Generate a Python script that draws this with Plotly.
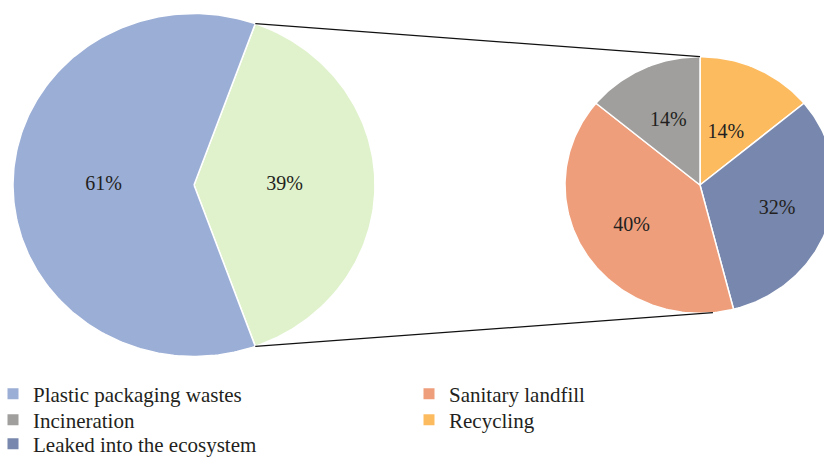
import numpy as np
import plotly.graph_objects as go

# ---- data ----
main_labels = ["Plastic packaging wastes", "Other"]
main_values = [61, 39]
sub_labels = ["Recycling", "Leaked into the ecosystem", "Sanitary landfill", "Incineration"]
sub_values = [14, 32, 40, 14]

# ---- style ----
main_colors = ["#9BAED6", "#E0F2CC"]
sub_colors = ["#FDBB60", "#7787AD", "#EE9E7B", "#A09F9D"]
FONT = "Liberation Serif"
TEXT_COLOR = "#231F20"

W, H = 824, 458
# pie geometry in the pixel-like axis frame (y grows downward)
L_CX, L_CY, L_RX, L_RY = 194, 185, 181, 171.5
R_CX, R_CY, R_RX, R_RY = 700, 185, 135, 128.3
MAIN_LABEL_R = 0.5
SUB_LABEL_R = [0.45, 0.6, 0.6, 0.55]
CONNECT_SUB_ANGLES = [0.0, 174.5]


def ellipse_point(cx, cy, rx, ry, ang_deg, frac=1.0):
    a = np.radians(ang_deg)
    return cx + frac * rx * np.sin(a), cy - frac * ry * np.cos(a)


def wedge(cx, cy, rx, ry, a0, a1):
    n = max(int(abs(a1 - a0)), 2) + 1
    angs = np.linspace(a0, a1, n)
    xs, ys = ellipse_point(cx, cy, rx, ry, angs)
    return [cx, *xs, cx], [cy, *ys, cy]


def slice_angles(values, start):
    total = float(sum(values))
    bounds = [start]
    for v in values:
        bounds.append(bounds[-1] + 360.0 * v / total)
    return list(zip(bounds[:-1], bounds[1:]))


fig = go.Figure()

# main pie: the "Other" share is centred on the right-hand side
other_span = 360.0 * main_values[1] / sum(main_values)
main_order = [1, 0]
main_ang = slice_angles([main_values[i] for i in main_order], 90 - other_span / 2)
main_bounds = {}
for (a0, a1), i in zip(main_ang, main_order):
    main_bounds[i] = (a0, a1)
    xs, ys = wedge(L_CX, L_CY, L_RX, L_RY, a0, a1)
    fig.add_trace(go.Scatter(x=xs, y=ys, mode="lines", fill="toself",
                             fillcolor=main_colors[i],
                             line=dict(color="white", width=1.5),
                             hoverinfo="skip", showlegend=False))
    tx, ty = ellipse_point(L_CX, L_CY, L_RX, L_RY, (a0 + a1) / 2, MAIN_LABEL_R)
    fig.add_trace(go.Scatter(x=[tx], y=[ty], mode="text",
                             text=[f"{main_values[i]}%"],
                             textfont=dict(family=FONT, size=20, color=TEXT_COLOR),
                             hoverinfo="skip", showlegend=False))

# breakdown pie
sub_ang = slice_angles(sub_values, 0)
for k, (a0, a1) in enumerate(sub_ang):
    xs, ys = wedge(R_CX, R_CY, R_RX, R_RY, a0, a1)
    fig.add_trace(go.Scatter(x=xs, y=ys, mode="lines", fill="toself",
                             fillcolor=sub_colors[k],
                             line=dict(color="white", width=1.5),
                             hoverinfo="skip", showlegend=False))
for k, (a0, a1) in enumerate(sub_ang):
    tx, ty = ellipse_point(R_CX, R_CY, R_RX, R_RY, (a0 + a1) / 2, SUB_LABEL_R[k])
    fig.add_trace(go.Scatter(x=[tx], y=[ty], mode="text",
                             text=[f"{sub_values[k]}%"],
                             textfont=dict(family=FONT, size=20, color=TEXT_COLOR),
                             hoverinfo="skip", showlegend=False))

# connector lines from the "Other" wedge edges to the breakdown pie
o0, o1 = main_bounds[1]
for a_main, a_sub in zip([o0, o1], CONNECT_SUB_ANGLES):
    x0, y0 = ellipse_point(L_CX, L_CY, L_RX, L_RY, a_main)
    x1, y1 = ellipse_point(R_CX, R_CY, R_RX, R_RY, a_sub)
    fig.add_trace(go.Scatter(x=[x0, x1], y=[y0, y1], mode="lines",
                             line=dict(color="#111111", width=1.2),
                             hoverinfo="skip", showlegend=False))

# legend: one single-entry legend per slot, laid out in two columns
legend_entries = [("Plastic packaging wastes", main_colors[0]),
                  ("Sanitary landfill", sub_colors[2]),
                  ("Incineration", sub_colors[3]),
                  ("Recycling", sub_colors[0]),
                  ("Leaked into the ecosystem", sub_colors[1])]
col_x = [-7, 409]
row_y = [394, 420, 444]

legend_layout = {}
for k, (name, col) in enumerate(legend_entries):
    lid = "legend" if k == 0 else f"legend{k + 1}"
    fig.add_trace(go.Scatter(x=[None], y=[None], mode="markers", name=name,
                             marker=dict(symbol="square", size=11, color=col),
                             legend=lid))
    legend_layout[lid] = dict(
        xref="paper", yref="paper",
        x=col_x[k % 2] / W, y=1 - row_y[k // 2] / H,
        xanchor="left", yanchor="middle",
        font=dict(family=FONT, size=21, color=TEXT_COLOR),
        bgcolor="rgba(0,0,0,0)", itemclick=False, itemdoubleclick=False)

fig.update_layout(
    width=W, height=H,
    margin=dict(l=0, r=0, t=0, b=0, autoexpand=False),
    paper_bgcolor="white", plot_bgcolor="white",
    xaxis=dict(range=[0, W], visible=False, fixedrange=True),
    yaxis=dict(range=[H, 0], visible=False, fixedrange=True),
    showlegend=True,
    **legend_layout,
)

fig.write_html("out.html")
